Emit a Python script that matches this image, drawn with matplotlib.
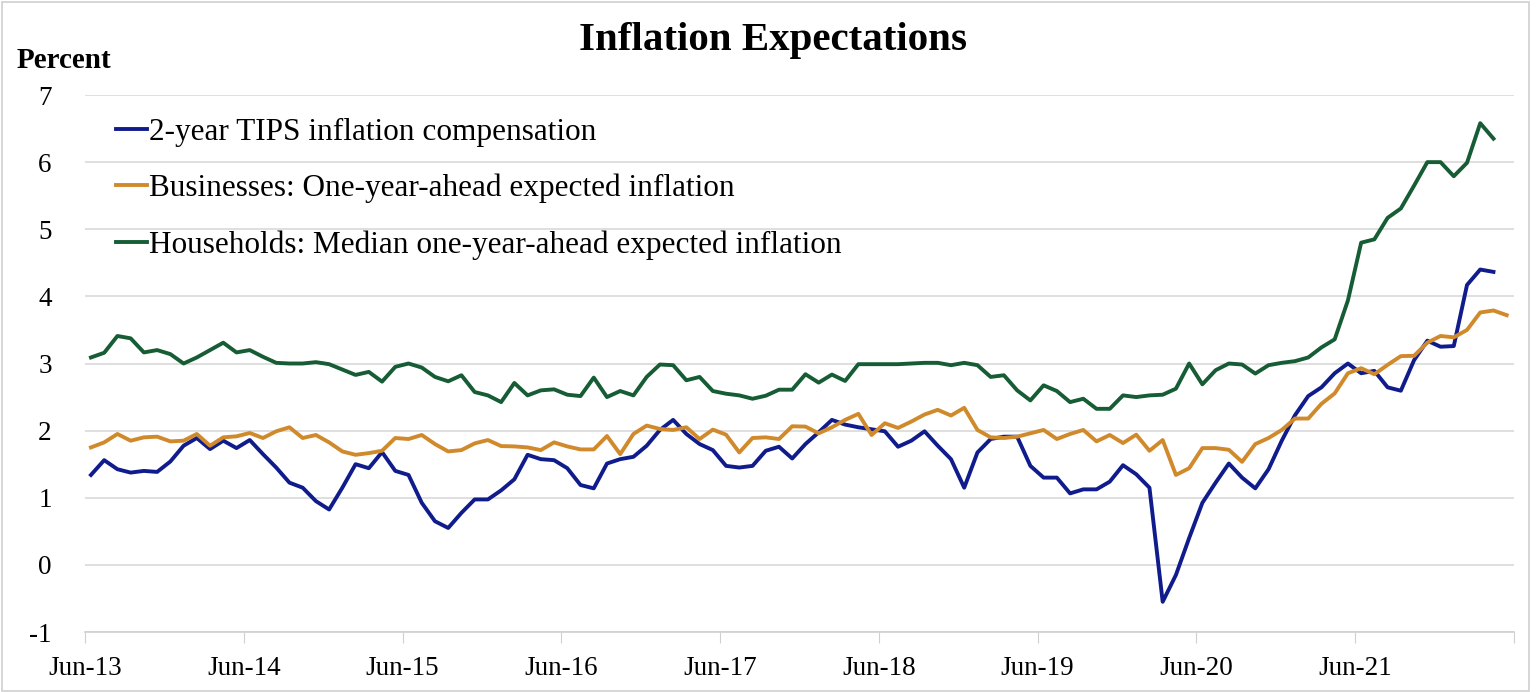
import matplotlib
matplotlib.use("Agg")
import matplotlib.pyplot as plt
from matplotlib.patches import Rectangle

# monthly observations starting Jun-2013
tips = [1.34, 1.56, 1.425, 1.375, 1.40, 1.385, 1.54, 1.775, 1.89, 1.725, 1.85, 1.74, 1.86, 1.65, 1.45, 1.225,
        1.15, 0.95, 0.825, 1.15, 1.50, 1.44, 1.68,
        1.40, 1.34, 0.925, 0.65, 0.55, 0.775, 0.975, 0.975, 1.11, 1.275, 1.64, 1.575, 1.56, 1.44, 1.19,
        1.14, 1.51, 1.575, 1.61, 1.775, 2.01, 2.16, 1.95,
        1.80, 1.71, 1.475, 1.45, 1.475, 1.70, 1.76, 1.585, 1.80, 1.975, 2.16, 2.09, 2.05, 2.02, 1.99,
        1.76, 1.85, 1.99, 1.775, 1.575, 1.15, 1.675, 1.875,
        1.91, 1.91, 1.475, 1.30, 1.30, 1.065, 1.125, 1.125, 1.24, 1.485, 1.35, 1.15, -0.55, -0.15, 0.40,
        0.925, 1.225, 1.51, 1.30, 1.14, 1.425, 1.85,
        2.23, 2.515, 2.645, 2.855, 3.0, 2.855, 2.89, 2.645, 2.595, 3.05, 3.34, 3.25, 3.26, 4.17, 4.40, 4.365]

business = [1.75, 1.825, 1.95, 1.85, 1.90, 1.91, 1.84, 1.85, 1.95, 1.775, 1.90, 1.915, 1.965, 1.89, 1.99,
            2.05, 1.89, 1.935, 1.825, 1.69, 1.64, 1.665, 1.70,
            1.89, 1.875, 1.935, 1.80, 1.69, 1.71, 1.81, 1.86, 1.77, 1.765, 1.75, 1.71, 1.825, 1.765, 1.72,
            1.72, 1.92, 1.65, 1.95, 2.075, 2.025, 2.01, 2.05,
            1.875, 2.015, 1.94, 1.675, 1.89, 1.90, 1.875, 2.065, 2.06, 1.96, 2.05, 2.16, 2.25, 1.935, 2.11,
            2.04, 2.135, 2.24, 2.31, 2.225, 2.34, 2.01, 1.90,
            1.89, 1.91, 1.96, 2.01, 1.875, 1.95, 2.01, 1.84, 1.935, 1.815, 1.94, 1.70, 1.86, 1.34, 1.44,
            1.74, 1.74, 1.715, 1.535, 1.80, 1.89, 2.01,
            2.18, 2.18, 2.40, 2.555, 2.855, 2.93, 2.84, 2.98, 3.11, 3.115, 3.31, 3.41, 3.39, 3.50, 3.76,
            3.79, 3.72]

households = [3.09, 3.16, 3.41, 3.375, 3.165, 3.2, 3.14, 3.0, 3.09, 3.2, 3.31, 3.165, 3.2, 3.1, 3.01, 3.0,
              3.0, 3.02, 2.99, 2.91, 2.83, 2.875, 2.73,
              2.95, 3.0, 2.94, 2.80, 2.735, 2.825, 2.575, 2.525, 2.425, 2.71, 2.525, 2.60, 2.615, 2.535,
              2.515, 2.79, 2.50, 2.59, 2.525, 2.80, 2.985, 2.975, 2.75,
              2.80, 2.59, 2.55, 2.525, 2.475, 2.52, 2.61, 2.61, 2.84, 2.715, 2.835, 2.74, 2.99, 2.99, 2.99,
              2.99, 3.0, 3.01, 3.01, 2.975, 3.01, 2.975, 2.80,
              2.825, 2.60, 2.45, 2.675, 2.59, 2.425, 2.475, 2.325, 2.325, 2.525, 2.50, 2.525, 2.535, 2.625,
              3.0, 2.69, 2.90, 3.0, 2.985, 2.85, 2.975, 3.01,
              3.035, 3.09, 3.24, 3.36, 3.94, 4.80, 4.85, 5.17, 5.31, 5.65, 6.0, 6.0, 5.79, 5.99, 6.58, 6.35]

tick_labels = ['Jun-13', 'Jun-14', 'Jun-15', 'Jun-16', 'Jun-17', 'Jun-18', 'Jun-19', 'Jun-20', 'Jun-21', '']

plt.rcParams['font.family'] = ['Liberation Serif', 'DejaVu Serif']

fig = plt.figure(figsize=(15.4, 6.92), dpi=100)
ax = fig.add_axes([0.0552, 0.0867, 0.9279, 0.776])

def months(vals):
    return [i + 0.45 for i in range(len(vals))]

ax.plot(months(tips), tips, color='#101c8c', lw=2.8, label='2-year TIPS inflation compensation')
ax.plot(months(business), business, color='#d08a2c', lw=2.8, label='Businesses: One-year-ahead expected inflation')
ax.plot(months(households), households, color='#165c34', lw=2.8,
        label='Households: Median one-year-ahead expected inflation')

ax.set_xlim(0, 108)
ax.set_ylim(-1, 7)
ax.set_xticks(range(0, 109, 12))
ax.set_xticklabels(tick_labels, fontsize=19.5)
ax.set_yticks(range(-1, 8))
ax.set_yticklabels([str(v) for v in range(-1, 8)], fontsize=19.5)
ax.tick_params(axis='y', length=0, pad=24)
ax.tick_params(axis='x', length=8, color='#d0d0d0', pad=9)
ax.grid(axis='y', color='#d9d9d9', lw=1.2)
ax.set_axisbelow(True)
for s in ['top', 'right', 'left']:
    ax.spines[s].set_visible(False)
ax.spines['bottom'].set_color('#d0d0d0')
ax.spines['bottom'].set_linewidth(1.2)

ax.legend(loc='upper left', bbox_to_anchor=(0.002, 1.01), frameon=False, fontsize=22.5,
          handlelength=1.0, handletextpad=0.06, labelspacing=0.86)

fig.text(0.502, 0.942, 'Inflation Expectations', ha='center', va='center', fontsize=29.5, fontweight='bold')
fig.text(0.011, 0.912, 'Percent', ha='left', va='center', fontsize=21, fontweight='bold')

fig.patches.append(Rectangle((0.001, 0.002), 0.992, 0.995, transform=fig.transFigure,
                             fill=False, edgecolor='#d0d0d0', lw=1.2))

fig.savefig('out.png', dpi=100)
